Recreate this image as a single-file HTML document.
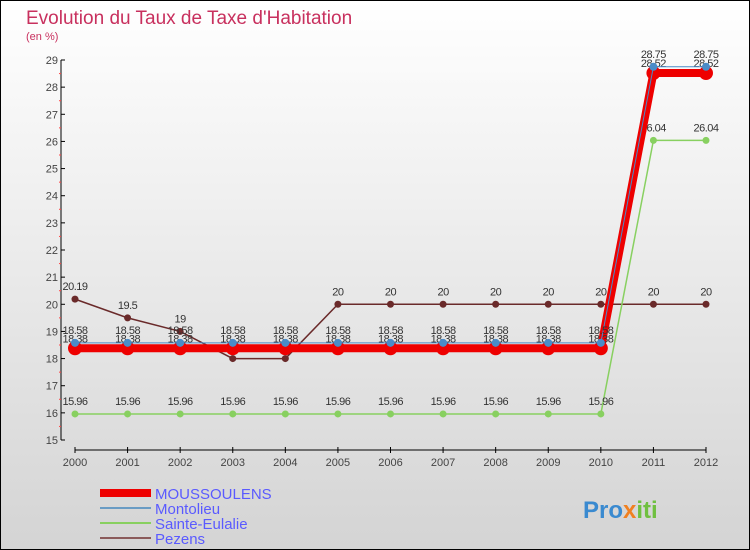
<!DOCTYPE html>
<html><head><meta charset="utf-8"><style>
body{margin:0;width:750px;height:550px;overflow:hidden}
svg{display:block;font-family:"Liberation Sans",sans-serif}
</style></head><body>
<svg id="chart" width="750" height="550">
<defs><linearGradient id="bg" x1="0" y1="0" x2="0" y2="1"><stop offset="0" stop-color="#ffffff"/><stop offset="1" stop-color="#d4d4d4"/></linearGradient></defs>
<rect x="0.5" y="0.5" width="749" height="549" fill="url(#bg)" stroke="#000"/>
<text x="26" y="24" font-size="19" fill="#c8305e">Evolution du Taux de Taxe d'Habitation</text>
<text x="26" y="40" font-size="11" fill="#c8305e">(en %)</text>
<g id="axes"></g><g id="series"></g>
<g>
<rect x="100" y="489" width="51" height="8" fill="#e00"/>
<text x="155" y="499" font-size="15" fill="#5a5aff">MOUSSOULENS</text>
<line x1="100" y1="508" x2="151" y2="508" stroke="#6a9cc4" stroke-width="2"/>
<text x="155" y="514" font-size="15" fill="#5a5aff">Montolieu</text>
<line x1="100" y1="523" x2="151" y2="523" stroke="#88d060" stroke-width="2"/>
<text x="155" y="529" font-size="15" fill="#5a5aff">Sainte-Eulalie</text>
<line x1="100" y1="538" x2="151" y2="538" stroke="#8a5a5a" stroke-width="2"/>
<text x="155" y="544" font-size="15" fill="#5a5aff">Pezens</text>
</g>
<text x="583" y="518" font-size="24" font-weight="bold" fill="#3a8ad0">Pro<tspan fill="#f08020">x</tspan><tspan fill="#70c040">iti</tspan></text>
</svg>
<script>
const years=[2000,2001,2002,2003,2004,2005,2006,2007,2008,2009,2010,2011,2012];
const yTicks=[15,16,17,18,19,20,21,22,23,24,25,26,27,28,29];
const moussoulens=[18.38,18.38,18.38,18.38,18.38,18.38,18.38,18.38,18.38,18.38,18.38,28.52,28.52];
const montolieu=[18.58,18.58,18.58,18.58,18.58,18.58,18.58,18.58,18.58,18.58,18.58,28.75,28.75];
const sainteEulalie=[15.96,15.96,15.96,15.96,15.96,15.96,15.96,15.96,15.96,15.96,15.96,26.04,26.04];
const pezens=[20.19,19.5,19,18,18,20,20,20,20,20,20,20,20];
const NS="http://www.w3.org/2000/svg";
const xS=i=>75+i*(631/12);
const yS=v=>440-(v-15)*(380/14);
function mk(p,t,a){const e=document.createElementNS(NS,t);for(const k in a)e.setAttribute(k,a[k]);p.appendChild(e);return e;}
const ax=document.getElementById('axes');
let yl=mk(ax,'line',{x1:61,y1:yS(29),x2:61,y2:yS(15),stroke:'#000'});


yTicks.forEach(v=>{
 mk(ax,'line',{x1:61,y1:yS(v),x2:65,y2:yS(v),stroke:'#000'});
 if(v<29){let m=mk(ax,'line',{x1:59,y1:yS(v+0.5),x2:61,y2:yS(v+0.5),stroke:'#f44'});}
 const t=mk(ax,'text',{x:58,y:yS(v)+4,'font-size':11,fill:'#444','text-anchor':'end'});t.textContent=v;
 
 
});
let xl=mk(ax,'line',{x1:75,y1:450,x2:xS(12),y2:450,stroke:'#000'});


years.forEach((y,i)=>{
 mk(ax,'line',{x1:xS(i),y1:447,x2:xS(i),y2:453,stroke:'#000'});
 const t=mk(ax,'text',{x:xS(i),y:466,'font-size':11,fill:'#444','text-anchor':'middle'});t.textContent=y;
 
 
});
const sg=document.getElementById('series');
function series(name,vals,color,w,r,labelDy){
 const g=mk(sg,'g',{});
 
 
 mk(g,'polyline',{points:vals.map((v,i)=>xS(i)+','+yS(v)).join(' '),fill:'none',stroke:color,'stroke-width':w});
 vals.forEach((v,i)=>{
  const c=mk(g,'circle',{cx:xS(i),cy:yS(v),r:r,fill:color});
  
  
  const t=mk(g,'text',{x:xS(i),y:yS(v)+labelDy,'font-size':11,fill:'#333','text-anchor':'middle','letter-spacing':'-0.5'});
  t.textContent=v;
  
  
 });
}
series('pezens',pezens,'#6a2a2a',1.5,3.5,-9);
series('sainte-eulalie',sainteEulalie,'#88d060',1.5,3.5,-9);
series('moussoulens',moussoulens,'#ee0000',8,7,-6);
series('montolieu',montolieu,'#4a8cc8',1,4,-9);
</script>
</body></html>
